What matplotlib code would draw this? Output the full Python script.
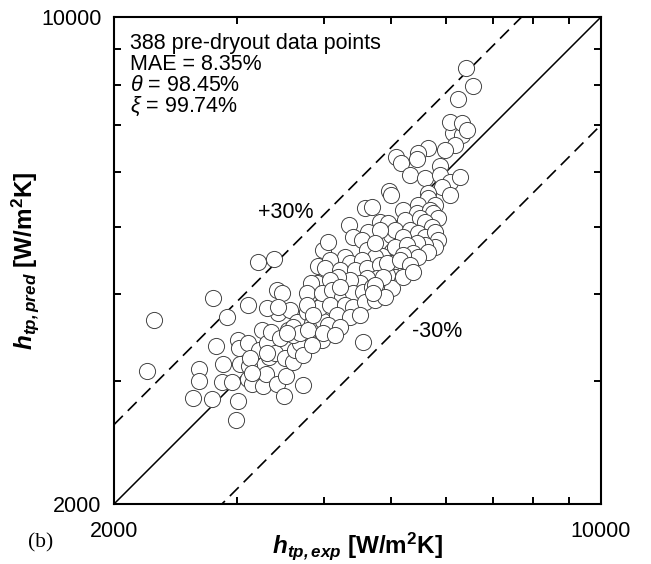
import matplotlib
matplotlib.use('Agg')
import matplotlib.pyplot as plt
from matplotlib.ticker import FixedLocator, FixedFormatter, NullFormatter

plt.rcParams['font.family'] = ['Liberation Sans', 'DejaVu Sans']
plt.rcParams['mathtext.fontset'] = 'custom'
plt.rcParams['mathtext.rm'] = 'Liberation Sans'
plt.rcParams['mathtext.it'] = 'Liberation Sans:italic'
plt.rcParams['mathtext.bf'] = 'Liberation Sans:bold'
try:
    plt.rcParams['mathtext.bfit'] = 'Liberation Sans:italic:bold'
    BFIT = True
except KeyError:
    BFIT = False

# ---------------- data (W/m^2K) ----------------
h_exp = [
    2283, 2230, 2774, 2905, 3114, 2802, 2649, 2649, 2597, 2765, 2867, 2858, 2954, 3013, 2993,
    3013, 3023, 3114, 3033, 3124, 3114, 3155, 3272, 3305, 3427, 3531, 3507, 3735, 3229, 3262,
    3316, 3360, 3338, 3405, 3461, 3519, 3613, 3637, 3698, 3554, 3613, 3439, 3316, 3427, 3484,
    3578, 3661, 3784, 3848, 3810, 3912, 3860, 3977, 3990, 3950, 3219, 3393, 3925, 3990, 3439,
    3835, 3613, 3698, 3797, 3316, 3735, 3848, 3135, 3155, 3542, 3784,
    4584, 4691, 4817, 4946, 4348, 4630, 4056, 4406, 4539, 4614, 4849, 4995, 5012, 4849, 4738,
    4291, 4362, 4539, 4083, 4016, 4220, 4435, 4614, 4817, 5012, 5062, 4930, 4769, 4614, 4509,
    4362, 4193, 4083, 3977, 4110, 4248, 4406, 4554, 4691, 4849, 5012, 3784, 4083, 4291, 4406,
    4584, 4738, 4897, 3860, 4179, 4362, 4509, 4056, 4220, 3990, 4151, 4554, 4220, 4930, 4865,
    6131, 6316, 6172, 5971, 5645, 5461, 5443, 5078, 5163, 5319, 5589, 5873, 5873, 6071, 6274,
    5912, 6071, 4962, 4995, 5645, 5645, 5777, 5461, 5197, 5443, 5682, 5739, 5835, 5232, 5498,
    5589, 5720, 5062, 5319, 5461, 5589, 5777, 5835, 5777, 5589, 5443, 5197, 4817, 4738, 5062,
    5266, 5372, 5645, 5461, 5197, 5146, 5319, 5197, 5372, 4738, 4707,
    6400, 6550, 6233, 6071, 6316, 6421,
]
h_pred = [
    3673, 3104, 3950, 3710, 3860, 3371, 3124, 3003, 2839, 2830, 3176, 2993, 2993, 2811, 2640,
    3439, 3349, 3405, 3176, 3155, 3023, 2973, 2954, 3073, 2973, 3053, 2858, 2963, 3327, 3554,
    3405, 3531, 3251, 3294, 3461, 3240, 3198, 3327, 3405, 3554, 3496, 3759, 3822, 4056, 4016,
    3797, 3649, 3772, 3637, 3990, 4151, 3439, 3439, 3661, 3835, 4450, 4494, 4391, 4630, 3835,
    4151, 3590, 3519, 3554, 3294, 3272, 3382, 3240, 3083, 3519, 4016,
    5319, 5337, 5078, 5062, 5028, 4913, 4754, 4833, 4785, 4630, 4785, 4865, 4614, 4539, 4524,
    4524, 4435, 4479, 4479, 4362, 4333, 4333, 4362, 4406, 4435, 4234, 4262, 4220, 4220, 4151,
    4193, 4234, 4193, 4016, 4056, 3964, 4016, 4030, 4097, 4097, 4083, 3860, 3860, 3860, 3835,
    3899, 3925, 3964, 3735, 3735, 3710, 3735, 3613, 3590, 3519, 3496, 3416, 4097, 4435, 4234,
    6815, 6770, 6550, 6443, 6485, 6379, 6254, 6295, 6172, 5932, 5873, 6111, 5932, 5796, 5893,
    5701, 5552, 5626, 5552, 5589, 5498, 5372, 5372, 5284, 5232, 5284, 5232, 5146, 5112, 5146,
    5078, 4995, 4946, 4946, 4897, 4833, 4913, 4785, 4676, 4707, 4738, 4833, 4946, 4738, 4676,
    4707, 4584, 4599, 4524, 4554, 4479, 4406, 4234, 4305, 4124, 4016,
    8448, 7960, 7625, 7067, 7044, 6883,
]

axis_range = [2000, 10000]
major_ticks = [2000, 10000]
major_labels = ['2000', '10000']
minor_ticks = [3000, 4000, 5000, 6000, 7000, 8000, 9000]
band = 0.30

stats_lines = ['388 pre-dryout data points', 'MAE = 8.35%',
               r'$\theta$ = 98.45%', r'$\xi$ = 99.74%']

# ---------------- figure ----------------
W, H = 651, 564
fig = plt.figure(figsize=(W / 100, H / 100), dpi=100)
ax = fig.add_axes([114 / W, 60 / H, 487 / W, 487 / H])
ax.set_xscale('log')
ax.set_yscale('log')
ax.set_xlim(axis_range)
ax.set_ylim(axis_range)

ax.plot(axis_range, axis_range, color='black', lw=1.1, zorder=2)
ax.plot(axis_range, [v * (1 + band) for v in axis_range], color='black', lw=1.2,
        dashes=(7.5, 4.2), zorder=2)
ax.plot(axis_range, [v * (1 - band) for v in axis_range], color='black', lw=1.2,
        dashes=(7.5, 4.2), zorder=2)

ax.scatter(h_exp, h_pred, s=135, facecolors='white', edgecolors='#444444',
           linewidths=0.7, zorder=3)

for axis in (ax.xaxis, ax.yaxis):
    axis.set_major_locator(FixedLocator(major_ticks))
    axis.set_major_formatter(FixedFormatter(major_labels))
    axis.set_minor_locator(FixedLocator(minor_ticks))
    axis.set_minor_formatter(NullFormatter())

ax.tick_params(which='both', direction='in', top=True, right=True, width=1.4)
ax.tick_params(which='minor', length=5)
ax.tick_params(which='major', length=0, labelsize=15.5)
ax.tick_params(axis='x', which='major', pad=12)
ax.tick_params(axis='y', which='major', pad=9)
for sp in ax.spines.values():
    sp.set_linewidth(1.5)

ys = [0.934, 0.891, 0.848, 0.805]
for t, yy in zip(stats_lines, ys):
    ax.text(0.033, yy, t, transform=ax.transAxes, fontsize=15.5, va='baseline', ha='left')

ax.text(3219, 5146, '+30%', fontsize=15.5, va='baseline', ha='left')
ax.text(5354, 3473, '-30%', fontsize=15.5, va='baseline', ha='left')

if BFIT:
    xl = r'$\mathbfit{h}_{\mathbfit{tp,exp}}$ [W/m$^{\mathbf{2}}$K]'
    yl = r'$\mathbfit{h}_{\mathbfit{tp,pred}}$ [W/m$^{\mathbf{2}}$K]'
else:
    xl = r'$h_{tp,exp}$ [W/m$^{2}$K]'
    yl = r'$h_{tp,pred}$ [W/m$^{2}$K]'
ax.set_xlabel(xl, fontsize=17.5, fontweight='bold', va='baseline')
ax.set_ylabel(yl, fontsize=17.5, fontweight='bold')
ax.xaxis.set_label_coords(0.5, -0.101)
ax.yaxis.set_label_coords(-0.15, 0.5)

fig.text(28 / W, 1 - 543 / H, '(b)', fontsize=15.5, family='Liberation Serif',
         va='center', ha='left')

fig.savefig('out.png', dpi=100)
